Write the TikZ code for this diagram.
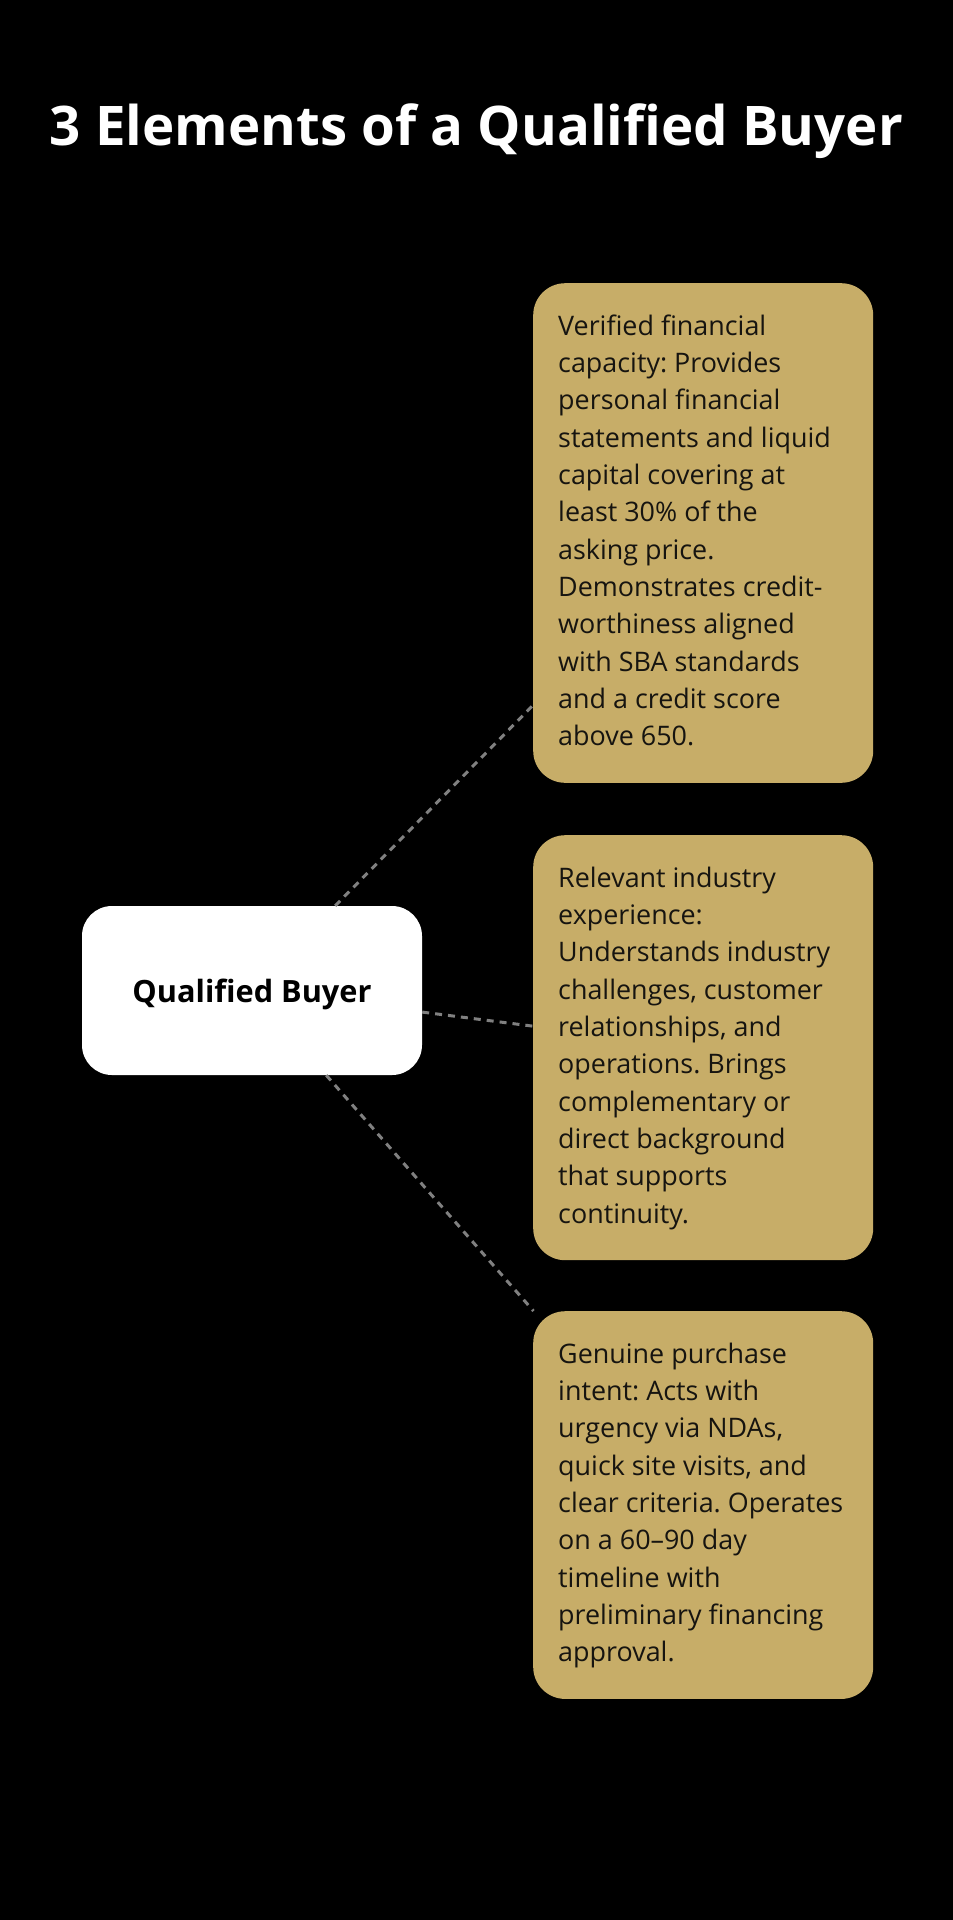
\documentclass[tikz,border=0pt]{standalone}
\usepackage{fontspec}
\setmainfont{Open Sans}
\usepackage{xcolor}
\definecolor{qbGold}{RGB}{199,173,104}
\definecolor{qbInk}{RGB}{22,20,16}
\definecolor{qbDash}{RGB}{128,128,128}
\newcommand{\qbStrut}{\rule[-9pt]{0pt}{28pt}}
\newcommand{\qbCard}[1]{\makebox[290pt][l]{\frenchspacing\begin{tabular}{@{}l@{}}\qbStrut#1\end{tabular}}}

\begin{document}
\begin{tikzpicture}[x=1pt,y=-1pt,
  qbTitle/.style={anchor=base, inner sep=0pt, text=white, font=\fontsize{54.6}{60}\selectfont\bfseries},
  qbHub/.style={fill=white, rounded corners=30pt, minimum width=340pt, minimum height=169pt, inner sep=0pt, text=black, text height=23pt, text depth=0pt, font=\fontsize{30.7}{37}\selectfont\bfseries},
  qbCardBox/.style={anchor=north west, fill=qbGold, rounded corners=32pt, inner xsep=25pt, inner ysep=26pt, text=qbInk, font=\fontsize{26.9}{37.3}\selectfont},
  qbLink/.style={draw=qbDash, line width=3pt, dash pattern=on 7pt off 6pt}]
\fill[black] (0,0) rectangle (953,1920);
\node[qbTitle] (title) at (476.5,145) {3 Elements of a Qualified Buyer};
\node[qbHub] (buyer) at (252,990.5) {Qualified Buyer};
\node[qbCardBox] (capacity) at (533,283) {\qbCard{Verified financial\\capacity: Provides\\personal financial\\statements and liquid\\capital covering at\\least 30\% of the\\asking price.\\Demonstrates credit-\\worthiness aligned\\with SBA standards\\and a credit score\\above 650.}};
\node[qbCardBox] (experience) at (533,835) {\qbCard{Relevant industry\\experience:\\Understands industry\\challenges, customer\\relationships, and\\operations. Brings\\complementary or\\direct background\\that supports\\continuity.}};
\node[qbCardBox] (intent) at (533,1311) {\qbCard{Genuine purchase\\intent: Acts with\\urgency via NDAs,\\quick site visits, and\\clear criteria. Operates\\on a 60--90 day\\timeline with\\preliminary financing\\approval.}};
\draw[qbLink] (buyer) -- (capacity);
\draw[qbLink] (buyer) -- (experience);
\draw[qbLink] (buyer) -- (intent);
\end{tikzpicture}
\end{document}
